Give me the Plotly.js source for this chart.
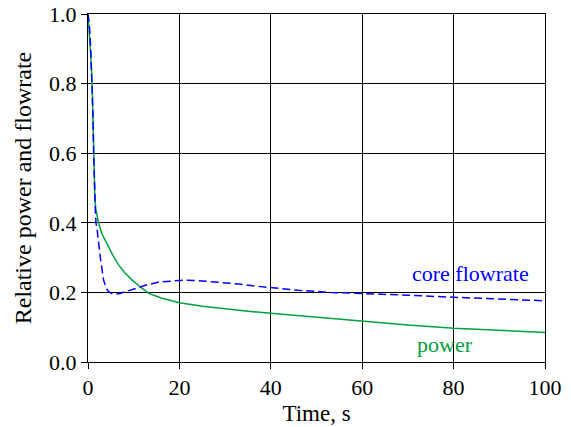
<!DOCTYPE html>
<html>
<head>
<meta charset="utf-8">
<script src="https://cdn.plot.ly/plotly-3.0.1.min.js"></script>
<style>html,body{margin:0;padding:0;background:#fff;}#chart{width:571px;height:427px;}</style>
</head>
<body>
<div id="chart"></div>
<script>
const powerTime = [0, 0.3, 0.6, 0.9, 1.1, 1.24, 1.35, 1.5, 1.7, 2.3, 3.0, 3.7, 4.5, 5.5, 6.7, 8, 9.6, 11.8, 13.3, 16.2, 20, 25, 30, 35, 40, 50, 60, 70, 80, 90, 100];
const powerValues = [1.0, 0.95, 0.88, 0.8, 0.7, 0.6, 0.52, 0.47, 0.44, 0.40, 0.37, 0.35, 0.331, 0.305, 0.279, 0.257, 0.236, 0.212, 0.197, 0.183, 0.170, 0.160, 0.152, 0.146, 0.140, 0.128, 0.116, 0.106, 0.097, 0.090, 0.085];
const flowTime = [0, 0.3, 0.6, 0.9, 1.1, 1.24, 1.4, 1.6, 1.75, 2.0, 2.7, 3.4, 4.0, 4.5, 5.2, 6.0, 7.0, 8.2, 9.5, 11.2, 13, 15.6, 18, 21, 24, 27, 30, 33, 36, 40, 46, 53, 60, 70, 80, 90, 100];
const flowValues = [1.0, 0.97, 0.9, 0.8, 0.7, 0.6, 0.5, 0.44, 0.40, 0.38, 0.30, 0.236, 0.212, 0.202, 0.197, 0.195, 0.197, 0.202, 0.207, 0.214, 0.222, 0.230, 0.233, 0.235, 0.234, 0.231, 0.228, 0.224, 0.219, 0.214, 0.206, 0.200, 0.197, 0.192, 0.186, 0.181, 0.176];
const xTicks = [0, 20, 40, 60, 80, 100];
const yTicks = [0.0, 0.2, 0.4, 0.6, 0.8, 1.0];
const yTickLabels = ["0.0", "0.2", "0.4", "0.6", "0.8", "1.0"];

const font = "Liberation Serif";
const traces = [
  {x: powerTime, y: powerValues, mode: "lines", name: "power",
   line: {color: "#00a040", width: 1.5}},
  {x: flowTime, y: flowValues, mode: "lines", name: "core flowrate",
   line: {color: "#0000ff", width: 1.5, dash: "8px,4px"}}
];
const layout = {
  width: 571, height: 427,
  margin: {l: 88, r: 26, t: 14, b: 65},
  paper_bgcolor: "#fff", plot_bgcolor: "#fff",
  showlegend: false,
  font: {family: font, size: 22, color: "#000"},
  xaxis: {
    range: [0, 100], tickvals: xTicks, ticktext: xTicks.map(String),
    showgrid: true, gridcolor: "#000", gridwidth: 1,
    showline: true, linecolor: "#000", linewidth: 1, mirror: true,
    ticks: "outside", ticklen: 6, tickcolor: "#000",
    zeroline: false,
    tickfont: {family: font, size: 22, color: "#000"},
    title: {text: "Time, s", font: {family: font, size: 23, color: "#000"}, standoff: 5}
  },
  yaxis: {
    range: [0, 1.0], tickvals: yTicks, ticktext: yTickLabels,
    showgrid: true, gridcolor: "#000", gridwidth: 1,
    showline: true, linecolor: "#000", linewidth: 1, mirror: true,
    ticks: "outside", ticklen: 6, tickcolor: "#000",
    zeroline: false,
    tickfont: {family: font, size: 22, color: "#000"},
    title: {text: "Relative power and flowrate", font: {family: font, size: 24, color: "#000"}, standoff: 10}
  },
  annotations: [
    {x: 83.6, y: 0.253, xref: "x", yref: "y", text: "core flowrate", showarrow: false,
     font: {family: font, size: 22, color: "#0000ff"}},
    {x: 78.1, y: 0.049, xref: "x", yref: "y", text: "power", showarrow: false,
     font: {family: font, size: 22, color: "#00a040"}}
  ]
};
Plotly.newPlot("chart", traces, layout, {displayModeBar: false, staticPlot: true});
</script>
</body>
</html>
